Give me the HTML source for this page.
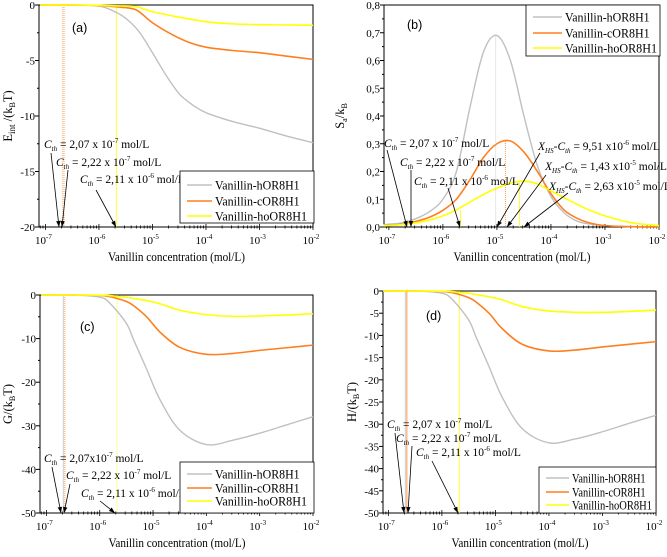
<!DOCTYPE html>
<html><head><meta charset="utf-8"><style>
html,body{margin:0;padding:0;background:#fff;}
svg, svg text{font-family:"Liberation Serif","Times New Roman","DejaVu Serif",serif;}
</style></head><body>
<svg id="fig" width="667" height="552" viewBox="0 0 667 552"></svg>
<script>
// ---- data (log10 concentration grid) ----
const aX = [-7.1,-6.5,-6.0,-5.75,-5.5,-5.25,-5.0,-4.75,-4.5,-4.25,-4.0,-3.5,-3.0,-2.5,-2.0];
const aGray = [0,0,-0.1,-0.5,-1.2,-2.4,-4.3,-6.3,-8.0,-9.0,-9.7,-10.5,-11.1,-11.8,-12.4];
const aOrangeX = [-7.1,-6.5,-6.0,-5.6,-5.3,-5.0,-4.62,-4.3,-4.0,-3.5,-3.0,-2.5,-2.0];
const aOrange = [0,0,-0.05,-0.2,-0.45,-1.6,-2.7,-3.4,-3.8,-4.1,-4.3,-4.6,-4.9];
const aYellowX = [-7.1,-6.5,-6.0,-5.6,-5.3,-5.0,-4.5,-4.0,-3.5,-3.0,-2.5,-2.0];
const aYellow = [0,0,-0.03,-0.08,-0.15,-0.6,-1.1,-1.5,-1.7,-1.77,-1.8,-1.83];

const bX = [-7.1,-7.0,-6.75,-6.5,-6.25,-6.0,-5.75,-5.5,-5.25,-5.0,-4.75,-4.5,-4.25,-4.0,-3.75,-3.5,-3.25,-3.0,-2.5,-2.0];
const bGray = [0.008,0.01,0.015,0.03,0.055,0.1,0.2,0.43,0.63,0.69,0.6,0.4,0.22,0.11,0.05,0.02,0.01,0.005,0.001,0];
const bOrange = [0.004,0.005,0.01,0.02,0.035,0.06,0.1,0.17,0.25,0.3,0.31,0.27,0.2,0.12,0.06,0.03,0.013,0.005,0.001,0];
const bYellow = [0.004,0.005,0.009,0.015,0.025,0.04,0.062,0.09,0.117,0.14,0.158,0.165,0.155,0.13,0.105,0.08,0.058,0.04,0.015,0.005];

const cX = [-7.1,-6.5,-6.0,-5.8,-5.5,-5.36,-5.12,-4.87,-4.5,-4.0,-3.5,-3.0,-2.5,-2.0];
const cGray = [0,0,-0.5,-2,-6.5,-10.4,-17,-24,-31,-34.3,-33.3,-31.7,-29.8,-27.9];
const cOrange = [0,0,-0.1,-0.4,-1.5,-2.5,-5,-8.5,-12,-13.6,-13.4,-12.7,-12.1,-11.5];
const cYellow = [0,0,-0.05,-0.15,-0.5,-0.8,-1.3,-2,-3.5,-4.5,-4.9,-4.8,-4.6,-4.3];

const dGray = [0,0,-0.5,-2,-6.5,-10.4,-17,-24,-31,-34.2,-33.3,-31.7,-29.8,-28];
const dOrange = [0,0,-0.1,-0.4,-1.5,-2.5,-5,-8.5,-12,-13.5,-13.3,-12.6,-12,-11.4];
const dYellow = [0,0,-0.05,-0.15,-0.5,-0.8,-1.3,-2,-3.5,-4.5,-4.8,-4.8,-4.6,-4.3];

const decades = [-7,-6,-5,-4,-3,-2];
const cth = [Math.log10(2.07e-7), Math.log10(2.22e-7), Math.log10(2.11e-6)];
const xhs = [Math.log10(9.51e-6), Math.log10(1.43e-5), Math.log10(2.63e-5)];
const xhsPeak = [0.69, 0.31, 0.165];

const GRAY='#c0c0c0', ORANGE='#ff7f1e', YELLOW='#ffff00';
const NS='http://www.w3.org/2000/svg';
const svg=document.getElementById('fig');
function el(tag,attrs,parent){const e=document.createElementNS(NS,tag);for(const k in attrs)e.setAttribute(k,attrs[k]);(parent||svg).appendChild(e);return e;}

function makePanel(p){
  const g=el('g',{});
  
  
  const X=v=>p.x0+(v-p.xmin)/(p.xmax-p.xmin)*(p.x1-p.x0);
  const Y=v=>p.y0+(p.ymax-v)/(p.ymax-p.ymin)*(p.y1-p.y0);
  p.X=X;p.Y=Y;p.g=g;
  const fr=el('rect',{x:p.x0,y:p.y0,width:p.x1-p.x0,height:p.y1-p.y0,fill:'none',stroke:'#000','stroke-width':1},g);
  
  
  for(let d=-8;d<=-2;d++){
    for(let m=1;m<10;m++){
      const v=d+Math.log10(m);
      if(v<p.xmin-1e-9||v>p.xmax+1e-9)continue;
      const x=X(v);
      const len=m===1?3:1.5;
      el('line',{x1:x,x2:x,y1:p.y1-len,y2:p.y1+len,stroke:'#000','stroke-width':0.8},g);
    }
  }
  decades.forEach(d=>{
    const t=el('text',{x:X(d)-2,y:p.y1+17,'font-size':11,'text-anchor':'middle'},g);
    
    
    t.appendChild(document.createTextNode('10'));
    const s=el('tspan',{dy:-5,'font-size':7},t);s.textContent=String(d);
  });
  p.yticks.forEach((v,i)=>{
    const y=Y(v);
    el('line',{x1:p.x0-4,x2:p.x0,y1:y,y2:y,stroke:'#000','stroke-width':1},g);
    if(p.yminor){const ym=Y(v+p.yminor);if(ym>=p.y0-0.5&&ym<=p.y1+0.5)el('line',{x1:p.x0-2,x2:p.x0,y1:ym,y2:ym,stroke:'#000','stroke-width':1},g);}
    const t=el('text',{x:p.x0-4,y:y+4,'font-size':11,'text-anchor':'end'},g);
    
    
    t.textContent=p.ylabels[i];
  });
  const xt=el('text',{x:(p.x0+p.x1)/2-68,y:p.y1+34,'font-size':12.5,textLength:137,lengthAdjust:'spacingAndGlyphs'},g);
  
  
  xt.textContent='Vanillin concentration (mol/L)';
  const yt=el('text',{transform:`translate(${p.ytx},${(p.y0+p.y1)/2}) rotate(-90)`,'font-size':12.5,'text-anchor':'middle'},g);
  
  
  p.ytitle(yt);
  const pl=el('text',{x:p.lx,y:p.ly,'font-size':12.5,style:'font-family:"Liberation Sans",sans-serif'},g);
  
  
  pl.textContent='('+p.id+')';
  return p;
}

function curve(p,xs,ys,color,w,name){
  const pts=xs.map((x,i)=>[p.X(x),p.Y(ys[i])]);
  let d='M'+pts[0][0]+','+pts[0][1];
  for(let i=0;i<pts.length-1;i++){
    const p0=pts[i-1]||pts[i],p1=pts[i],p2=pts[i+1],p3=pts[i+2]||p2;
    const c1=[p1[0]+(p2[0]-p0[0])/6,p1[1]+(p2[1]-p0[1])/6];
    const c2=[p2[0]-(p3[0]-p1[0])/6,p2[1]-(p3[1]-p1[1])/6];
    d+=`C${c1[0]},${c1[1]} ${c2[0]},${c2[1]} ${p2[0]},${p2[1]}`;
  }
  const e=el('path',{d:d,fill:'none',stroke:color,'stroke-width':w},p.g);
  
  
}
function vline(p,xv,yTop,color,dash){
  const e=el('line',{x1:p.X(xv),x2:p.X(xv),y1:yTop,y2:p.y1,stroke:color,'stroke-width':0.8,'stroke-dasharray':dash||'none'},p.g);
  
  
}
function arrow(p,x1,y1,x2,y2){
  const e=el('line',{x1,y1,x2,y2,stroke:'#000','stroke-width':0.8},p.g);
  
  
  const a=Math.atan2(y2-y1,x2-x1),L=6,W=2.2;
  const bx=x2-L*Math.cos(a),by=y2-L*Math.sin(a);
  el('polygon',{points:`${x2},${y2} ${bx+W*Math.sin(a)},${by-W*Math.cos(a)} ${bx-W*Math.sin(a)},${by+W*Math.cos(a)}`,fill:'#000'},p.g);
}
function cthLabel(p,x,y,val,exp,fs){
  const t=el('text',{x,y,'font-size':fs||11.5},p.g);
  
  
  const c=el('tspan',{'font-style':'italic'},t);c.textContent='C';
  const s=el('tspan',{'font-style':'italic','font-size':7,dy:3},t);s.textContent='th';
  const r=el('tspan',{dy:-3},t);r.textContent=' = '+val;
  const e=el('tspan',{dy:-5,'font-size':7},t);e.textContent=exp;
  const r2=el('tspan',{dy:5},t);r2.textContent=' mol/L';
}
function xhsLabel(p,x,y,val,exp){
  const t=el('text',{x,y,'font-size':11.5},p.g);
  
  
  const c=el('tspan',{'font-style':'italic'},t);c.textContent='X';
  const s=el('tspan',{'font-style':'italic','font-size':7,dy:3},t);s.textContent='HS';
  const m=el('tspan',{dy:-3},t);m.textContent='-';
  const c2=el('tspan',{'font-style':'italic'},t);c2.textContent='C';
  const s2=el('tspan',{'font-style':'italic','font-size':7,dy:3},t);s2.textContent='th';
  const r=el('tspan',{dy:-3},t);r.textContent=' = '+val;
  const e=el('tspan',{dy:-5,'font-size':7},t);e.textContent=exp;
  const r2=el('tspan',{dy:5},t);r2.textContent=' mol/L';
}
function legend(p,x,y,w,h,rows,lw,tw){
  const lg=el('g',{},p.g);
  
  
  el('rect',{x,y,width:w,height:h,fill:'#fff',stroke:'#000','stroke-width':0.8},lg);
  const names=['Vanillin-hOR8H1','Vanillin-cOR8H1','Vanillin-hoOR8H1'],cols=[GRAY,ORANGE,YELLOW],wf=[0.92,0.92,1];
  names.forEach((n,i)=>{
    const yy=rows[i];
    const le=el('g',{},lg);
    
    
    el('line',{x1:x+7,x2:x+lw,y1:yy,y2:yy,stroke:cols[i],'stroke-width':1.6},le);
    const t=el('text',{x:x+lw+3,y:yy+4.5,'font-size':12.5,textLength:tw*wf[i],lengthAdjust:'spacingAndGlyphs'},le);t.textContent=n;
  });
}

// Panel a
const A=makePanel({id:'a',x0:39,x1:313,y0:5,y1:227,xmin:-7.12,xmax:-2,ymin:-20,ymax:0,
  yticks:[0,-5,-10,-15,-20],ylabels:['0','-5','-10','-15','-20'],yminor:2.5,ytx:12,lx:72,ly:32,
  ytitle:t=>{t.appendChild(document.createTextNode('E'));const s=el('tspan',{dy:3,'font-size':9},t);s.textContent='int';const r=el('tspan',{dy:-3},t);r.textContent=' /(k';const s2=el('tspan',{dy:3,'font-size':8},t);s2.textContent='B';const r2=el('tspan',{dy:-3},t);r2.textContent='T)';}});
vline(A,cth[0],A.y0,'#f7b08a','1,1');vline(A,cth[1],A.y0,ORANGE,'1,1');vline(A,cth[2],A.y0,YELLOW);
curve(A,aX,aGray,GRAY,1.4,'series-hOR8H1');
curve(A,aOrangeX,aOrange,ORANGE,1.6,'series-cOR8H1');
curve(A,aYellowX,aYellow,YELLOW,1.6,'series-hoOR8H1');
cthLabel(A,44,148,'2,07 x 10','-7');cthLabel(A,56,166,'2,22 x 10','-7');cthLabel(A,80,183,'2,11 x 10','-6');
arrow(A,51,153,59,227);arrow(A,68,170,62,227);arrow(A,96,190,116,227);
legend(A,180,171,134,52,[185,201,216],32,92);

// Panel b
const B=makePanel({id:'b',x0:384,x1:659,y0:5,y1:227,xmin:-7.09,xmax:-2,ymin:0,ymax:0.8,
  yticks:[0,0.1,0.2,0.3,0.4,0.5,0.6,0.7,0.8],ylabels:['0,0','0,1','0,2','0,3','0,4','0,5','0,6','0,7','0,8'],yminor:0.05,ytx:344,lx:407,ly:29,
  ytitle:t=>{t.appendChild(document.createTextNode('S'));const s=el('tspan',{dy:3,'font-size':8},t);s.textContent='a';const r=el('tspan',{dy:-3},t);r.textContent='/k';const s2=el('tspan',{dy:3,'font-size':8},t);s2.textContent='B';}});
curve(B,bX,bGray,GRAY,1.4,'series-hOR8H1');
curve(B,bX,bOrange,ORANGE,1.6,'series-cOR8H1');
curve(B,bX,bYellow,YELLOW,1.6,'series-hoOR8H1');
vline(B,xhs[0],B.Y(xhsPeak[0]),GRAY,'1,1');vline(B,xhs[1],B.Y(xhsPeak[1]),ORANGE,'1,1');vline(B,xhs[2],B.Y(xhsPeak[2]),YELLOW);
vline(B,cth[2],B.Y(0.06),YELLOW);
cthLabel(B,384,147,'2,07 x 10','-7');cthLabel(B,400,166,'2,22 x 10','-7');cthLabel(B,414,185,'2,11 x 10','-6');
arrow(B,387,150,407,227);arrow(B,411,170,411,227);arrow(B,448,188,460,227);
xhsLabel(B,538,150,'9,51 x10','-6');xhsLabel(B,545,170,'1,43 x10','-5');xhsLabel(B,549,190,'2,63 x10','-5');
arrow(B,540,153,497,227);arrow(B,546,175,507,227);arrow(B,568,193,524,227);
legend(B,526,5,134,51,[17,33,48],36,92);

// Panel c
const C=makePanel({id:'c',x0:40,x1:313,y0:295,y1:513,xmin:-7.12,xmax:-2,ymin:-50,ymax:0,
  yticks:[0,-10,-20,-30,-40,-50],ylabels:['0','-10','-20','-30','-40','-50'],yminor:5,ytx:12,lx:80,ly:331,
  ytitle:t=>{t.appendChild(document.createTextNode('G/(k'));const s=el('tspan',{dy:3,'font-size':8},t);s.textContent='B';const r=el('tspan',{dy:-3},t);r.textContent='T)';}});
vline(C,cth[0],C.y0,GRAY);vline(C,cth[1],C.y0,ORANGE,'1,1');vline(C,cth[2],C.y0,YELLOW,'1,1');
curve(C,cX,cGray,GRAY,1.4,'series-hOR8H1');
curve(C,cX,cOrange,ORANGE,1.6,'series-cOR8H1');
curve(C,cX,cYellow,YELLOW,1.6,'series-hoOR8H1');
cthLabel(C,44,462,'2,07x10','-7');cthLabel(C,66,479,'2,22 x 10','-7');cthLabel(C,81,497,'2,11 x 10','-6');
arrow(C,52,467,61,513);arrow(C,70,484,64,513);arrow(C,100,501,115,513);
legend(C,180,462,134,51,[474,488,501],32,92);

// Panel d
const D=makePanel({id:'d',x0:383,x1:656,y0:291,y1:513,xmin:-7.1,xmax:-2,ymin:-50,ymax:0,
  yticks:[0,-5,-10,-15,-20,-25,-30,-35,-40,-45,-50],ylabels:['0','-5','-10','-15','-20','-25','-30','-35','-40','-45','-50'],yminor:2.5,ytx:356,lx:426,ly:320,
  ytitle:t=>{t.appendChild(document.createTextNode('H/(k'));const s=el('tspan',{dy:3,'font-size':8},t);s.textContent='B';const r=el('tspan',{dy:-3},t);r.textContent='T)';}});
vline(D,cth[0],D.y0,GRAY);vline(D,cth[1],D.y0,ORANGE);vline(D,cth[2],D.y0,YELLOW);
curve(D,cX,dGray,GRAY,1.4,'series-hOR8H1');
curve(D,cX,dOrange,ORANGE,1.6,'series-cOR8H1');
curve(D,cX,dYellow,YELLOW,1.6,'series-hoOR8H1');
cthLabel(D,387,428,'2,07 x 10','-7');cthLabel(D,396,442,'2,22 x 10','-7');cthLabel(D,416,456,'2,11 x 10','-6');
arrow(D,395,433,404,513);arrow(D,412,446,408,513);arrow(D,432,461,458,513);
legend(D,539,467,117,46,[478,492,505],30,80);
</script>
</body></html>
